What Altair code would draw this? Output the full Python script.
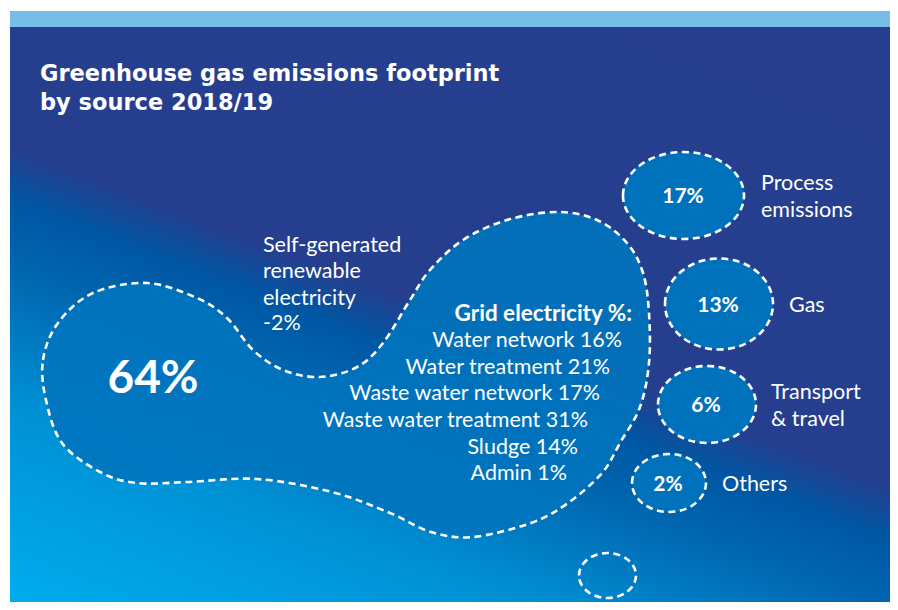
import altair as alt
import pandas as pd

FONT = "Lato"
TITLE_FONT = "DejaVu Sans"

# ---- layout frame (page pixel space) ----
page_x = [8, 890]
page_y = [8, 602]
panel_x = [10, 898]
panel_y = [27, 610]
band_x = [10, 898]
band_y = [11, 27]

# ---- footprint outline control points ----
blob_x = [46, 43, 58, 93, 147, 197, 227, 253, 283, 320, 357, 383, 410, 430, 463,
          507, 557, 597, 627, 643, 649, 649, 640, 620, 602, 568, 531, 473, 431,
          390, 332, 257, 187, 137, 100, 62]
blob_y = [400, 360, 323, 293, 283, 298, 318, 350, 370, 377, 367, 343, 300, 270, 240,
          220, 212, 220, 243, 273, 313, 363, 407, 443, 473, 503, 523, 537, 532,
          513, 492, 479, 482, 483, 472, 443]

# ---- toes ----
toe_labels = ["17%", "13%", "6%", "2%"]
toe_cx = [683.5, 719, 707, 669]
toe_cy = [195.5, 304, 404.5, 483]
toe_w = [121, 108, 98, 74]
toe_h = [87, 91, 77, 58]
toe_lab_y = [203, 312, 412, 491]
toe_lab_x = [683, 718, 706, 668]
small_cx = [607.5]
small_cy = [575.5]
small_w = [57]
small_h = [45]

# ---- texts ----
title_lines = ["Greenhouse gas emissions footprint", "by source 2018/19"]
title_x = [40, 40]
title_y = [81, 110]

main_value = ["64%"]
main_x = [153]
main_y = [393]

left_texts = ["Self-generated", "renewable", "electricity", "-2%",
              "Process", "emissions", "Gas", "Transport", "& travel", "Others"]
left_x = [263, 263, 263, 263, 761, 761, 789, 771, 771, 722]
left_y = [252, 278, 305, 330, 190, 217, 312, 399, 426, 491]

grid_head = ["Grid electricity %:"]
grid_head_x = [632]
grid_head_y = [321]
grid_lines = ["Water network 16%", "Water treatment 21%", "Waste water network 17%",
              "Waste water treatment 31%", "Sludge 14%", "Admin 1%"]
grid_x = [622, 610, 600, 588, 578, 567]
grid_y = [347, 373.5, 400, 427, 454, 480]


def ellipse_path(r):
    k = 0.5523
    a, b = k * r, k
    return (f"M-1,0C-1,{-a:.4f},{-b:.4f},{-r:.4f},0,{-r:.4f}"
            f"C{b:.4f},{-r:.4f},1,{-a:.4f},1,0"
            f"C1,{a:.4f},{b:.4f},{r:.4f},0,{r:.4f}"
            f"C{-b:.4f},{r:.4f},-1,{a:.4f},-1,0Z")


W = page_x[1] - page_x[0]
H = page_y[1] - page_y[0]
xs = alt.Scale(domain=page_x, range=[0, W])
ys = alt.Scale(domain=page_y, range=[0, H])


def X(f):
    return alt.X(f, type="quantitative", scale=xs, axis=None)


def Y(f):
    return alt.Y(f, type="quantitative", scale=ys, axis=None)


rect_df = pd.DataFrame({"x": [panel_x[0]], "x2": [panel_x[1]],
                        "y": [panel_y[0]], "y2": [panel_y[1]]})
band_df = pd.DataFrame({"x": [band_x[0]], "x2": [band_x[1]],
                        "y": [band_y[0]], "y2": [band_y[1]]})

grad = alt.Gradient(
    gradient="linear",
    stops=[alt.GradientStop(offset=0, color="#00aeef"),
           alt.GradientStop(offset=0.22, color="#0091d5"),
           alt.GradientStop(offset=0.37, color="#0066b0"),
           alt.GradientStop(offset=0.445, color="#0056a3"),
           alt.GradientStop(offset=0.5, color="#253f8e"),
           alt.GradientStop(offset=1, color="#263e8d")],
    x1=0, y1=1, x2=0.696, y2=-0.18)

panel = alt.Chart(rect_df).mark_rect(fill=grad).encode(
    x=X("x"), x2="x2", y=Y("y"), y2="y2")
band = alt.Chart(band_df).mark_rect(fill="#78bce8").encode(
    x=X("x"), x2="x2", y=Y("y"), y2="y2")

blob_df = pd.DataFrame({"x": blob_x, "y": blob_y, "i": list(range(len(blob_x)))})
blob = alt.Chart(blob_df).mark_line(
    interpolate="cardinal-closed", fill="#0074be", fillOpacity=0.9,
    stroke="white", strokeWidth=2.6, strokeDash=[7, 4.5]
).encode(x=X("x"), y=Y("y"), order=alt.Order("i:Q"))

toe_df = pd.DataFrame({
    "x": toe_cx, "y": toe_cy,
    "shape": [ellipse_path(h / w) for w, h in zip(toe_w, toe_h)],
    "size": [w * w for w in toe_w]})
toes = alt.Chart(toe_df).mark_point(
    fill="#0072bc", fillOpacity=1, opacity=1, stroke="white", strokeWidth=2.6,
    strokeDash=[7, 4.5]
).encode(x=X("x"), y=Y("y"), shape=alt.Shape("shape:N", scale=None),
         size=alt.Size("size:Q", scale=None))

small_df = pd.DataFrame({
    "x": small_cx, "y": small_cy,
    "shape": [ellipse_path(h / w) for w, h in zip(small_w, small_h)],
    "size": [w * w for w in small_w]})
small = alt.Chart(small_df).mark_point(
    filled=False, opacity=1, stroke="white", strokeWidth=2.6, strokeDash=[7, 4.5]
).encode(x=X("x"), y=Y("y"), shape=alt.Shape("shape:N", scale=None),
         size=alt.Size("size:Q", scale=None))


def text_layer(texts, x, y, align, size, weight, font=FONT):
    df = pd.DataFrame({"t": texts, "x": x, "y": y})
    return alt.Chart(df).mark_text(
        align=align, baseline="alphabetic", font=font, fontSize=size,
        fontWeight=weight, color="white"
    ).encode(x=X("x"), y=Y("y"), text="t:N")


title = text_layer(title_lines, title_x, title_y, "left", 22.5, "bold", TITLE_FONT)
big = text_layer(main_value, main_x, main_y, "center", 46, 700)
toe_text = text_layer(toe_labels, toe_lab_x, toe_lab_y, "center", 21, 700)
left_t = text_layer(left_texts, left_x, left_y, "left", 21.5, 400)
ghead = text_layer(grid_head, grid_head_x, grid_head_y, "right", 22.5, 700)
glines = text_layer(grid_lines, grid_x, grid_y, "right", 21.5, 400)

chart = alt.layer(panel, band, blob, toes, small, title, big, toe_text,
                  left_t, ghead, glines).properties(
    width=W, height=H, padding=0, autosize=alt.AutoSizeParams(type="none"),
    background="white"
).configure_view(stroke=None)

chart.save("out.html", embed_options={"renderer": "svg", "actions": False})
